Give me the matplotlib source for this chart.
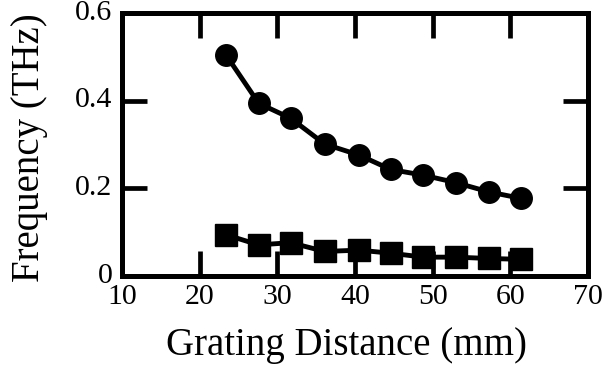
import matplotlib
matplotlib.use("Agg")
import matplotlib.pyplot as plt
from matplotlib.transforms import ScaledTranslation

grating_mm = [23.4, 27.6, 31.7, 36.1, 40.5, 44.6, 48.8, 53.0, 57.2, 61.4]
freq_high = [0.504, 0.394, 0.360, 0.301, 0.276, 0.243, 0.230, 0.213, 0.192, 0.177]
freq_low = [0.094, 0.071, 0.076, 0.056, 0.059, 0.052, 0.043, 0.043, 0.040, 0.038]
xticks = [10, 20, 30, 40, 50, 60, 70]
yticks = [0, 0.2, 0.4, 0.6]
yticklabels = ["0", "0.2", "0.4", "0.6"]

plt.rcParams['font.family'] = ['Liberation Serif', 'DejaVu Serif']

W, H = 602, 369
fig = plt.figure(figsize=(W/100, H/100), dpi=100)
ax = fig.add_axes([122/W, 1-276/H, (588-122)/W, (276-13)/H])

ax.plot(grating_mm, freq_high, color='black', lw=3.5, marker='o', ms=15.5,
        solid_capstyle='round', solid_joinstyle='round', zorder=3)
ax.plot(grating_mm, freq_low, color='black', lw=3.5, marker='s', ms=15.5,
        solid_joinstyle='round', zorder=3)

ax.set_xlim(10, 70)
ax.set_ylim(0, 0.6)
ax.set_xticks(xticks)
ax.set_yticks(yticks)
ax.set_yticklabels(yticklabels)
for s in ax.spines.values():
    s.set_linewidth(3.6)
ax.tick_params(direction='in', length=18, width=3.4, top=True, right=True,
               labelsize=21.5)
ax.tick_params(axis='x', pad=6)
ax.tick_params(axis='y', pad=7)

shift = ScaledTranslation(0, 2.5/72, fig.dpi_scale_trans)
for lbl in ax.get_yticklabels():
    lbl.set_transform(lbl.get_transform() + shift)

fig.text(346/W, 1-345/H, "Grating Distance (mm)", fontsize=28,
         ha='center', va='center')
fig.text(29/W, 1-148/H, "Frequency (THz)", fontsize=28, rotation=90,
         ha='center', va='center')

fig.savefig("out.png", dpi=100)
